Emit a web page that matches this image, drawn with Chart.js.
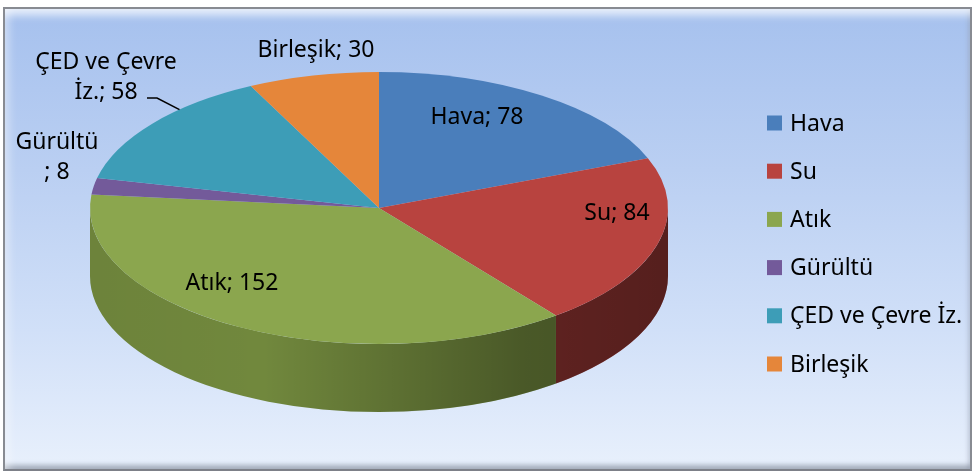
<!DOCTYPE html>
<html>
<head>
<meta charset="utf-8">
<script src="https://cdn.jsdelivr.net/npm/chart.js@4"></script>
<style>
html,body{margin:0;padding:0;background:#fff;}
#wrap{position:relative;width:974px;height:476px;overflow:hidden;}
#frame{position:absolute;left:3px;top:7px;width:969px;height:464px;box-sizing:border-box;
  border:2px solid #888b92;border-bottom-color:#7d8088;
  background:linear-gradient(to bottom,#a6c1ee 0%,#bacff2 35%,#d1e0f8 70%,#e8f0fc 100%);
  box-shadow:inset 0 12px 8px -6px rgba(255,255,255,0.75),inset 10px 0 8px -6px rgba(255,255,255,0.45),inset 0 -7px 5px -3px rgba(110,118,135,0.55),inset -4px 0 4px -2px rgba(140,150,170,0.4);}
#c{position:absolute;left:0;top:0;}
</style>
</head>
<body>
<div id="wrap">
<div id="frame"></div>
<canvas id="c" width="974" height="476"></canvas>
</div>
<script>
const labels = ["Hava","Su","Atık","Gürültü","ÇED ve Çevre İz.","Birleşik"];
const values = [78,84,152,8,58,30];
const colors = ["#4a7ebb","#b8433f","#8ba64e","#735a9a","#3d9db7","#e5863a"];
const sideColors = ["#3a6596","#933532","#71883d","#5c487b","#307e92","#b76b2e"];

// where the value labels sit (offset from pie centre, px) and where they wrap
const labelOffsets = [[98,-91],[238,5],[-147,75],[-322,-51],[-273,-131],[-63,-158]];
const labelWrap = [0,0,0,7,12,0];

const FONT = "23px 'Noto Sans'";
const stretch = 289 / 136;   // ellipse rx / ry
const depth = 68;

function labelLines(i){
    const t = labels[i] + "; " + values[i];
    const w = labelWrap[i];
    if(!w) return [t];
    return [t.slice(0,w).trim(), t.slice(w).trim()];
}

const pie3d = {
    id: "pie3d",
    beforeDatasetsDraw(chart){
        const ctx = chart.ctx;
        const arcs = chart.getDatasetMeta(0).data;
        const cx = arcs[0].x, cy = arcs[0].y, r = arcs[0].outerRadius;
        ctx.save();
        ctx.translate(cx, cy);
        ctx.scale(stretch, 1);
        ctx.translate(-cx, -cy);

        // side walls, only front half is visible
        arcs.forEach((a, i) => {
            const s = Math.max(a.startAngle, 0);
            const e = Math.min(a.endAngle, Math.PI);
            if(e <= s) return;
            ctx.beginPath();
            ctx.arc(cx, cy, r, s, e);
            ctx.arc(cx, cy + depth, r, e, s, true);
            ctx.closePath();
            ctx.fillStyle = sideColors[i];
            ctx.fill();
        });
        // shading over the wall
        const g = ctx.createLinearGradient(cx - r, 0, cx + r, 0);
        g.addColorStop(0, "rgba(0,0,0,0.04)");
        g.addColorStop(0.3, "rgba(0,0,0,0.0)");
        g.addColorStop(0.75, "rgba(0,0,0,0.35)");
        g.addColorStop(1, "rgba(0,0,0,0.42)");
        ctx.beginPath();
        ctx.arc(cx, cy, r, 0, Math.PI);
        ctx.arc(cx, cy + depth, r, Math.PI, 0, true);
        ctx.closePath();
        ctx.fillStyle = g;
        ctx.fill();
    },
    afterDatasetsDraw(chart){
        const ctx = chart.ctx;
        ctx.restore();
        const arcs = chart.getDatasetMeta(0).data;
        const cx = arcs[0].x, cy = arcs[0].y, r = arcs[0].outerRadius;

        ctx.save();
        ctx.font = FONT;
        ctx.fillStyle = "#000";
        ctx.textAlign = "center";
        ctx.textBaseline = "middle";
        arcs.forEach((a, i) => {
            const lines = labelLines(i);
            const lh = 30;
            const x = cx + labelOffsets[i][0];
            const y0 = cy + labelOffsets[i][1] - (lines.length - 1) * lh / 2;
            lines.forEach((ln, k) => ctx.fillText(ln, x, y0 + k * lh));
        });

        // leader line for ÇED label
        const ced = arcs[4];
        const ang = ced.startAngle + 0.66 * (ced.endAngle - ced.startAngle);
        const ex = cx + r * stretch * Math.cos(ang);
        const ey = cy + r * Math.sin(ang);
        ctx.beginPath();
        ctx.moveTo(cx + labelOffsets[4][0] + 41, cy + labelOffsets[4][1] + 21);
        ctx.lineTo(cx + labelOffsets[4][0] + 51, cy + labelOffsets[4][1] + 21);
        ctx.lineTo(ex, ey);
        ctx.strokeStyle = "#000";
        ctx.lineWidth = 1.5;
        ctx.stroke();

        // legend
        ctx.textAlign = "left";
        labels.forEach((lb, i) => {
            const y = 123 + i * 48.2;
            ctx.fillStyle = colors[i];
            ctx.fillRect(767, y - 7.5, 15, 15);
            ctx.fillStyle = "#000";
            ctx.fillText(lb, 790, y + 1);
        });
        ctx.restore();
    }
};

new Chart(document.getElementById("c"), {
    type: "pie",
    data: {
        labels: labels,
        datasets: [{
            data: values,
            backgroundColor: colors,
            borderWidth: 0,
            clip: false
        }]
    },
    options: {
        responsive: false,
        animation: false,
        events: [],
        radius: 136,
        layout: {padding: {left: 243, top: 72, right: 459, bottom: 132}},
        plugins: {legend: {display: false}, tooltip: {enabled: false}}
    },
    plugins: [pie3d]
});
</script>
</body>
</html>
